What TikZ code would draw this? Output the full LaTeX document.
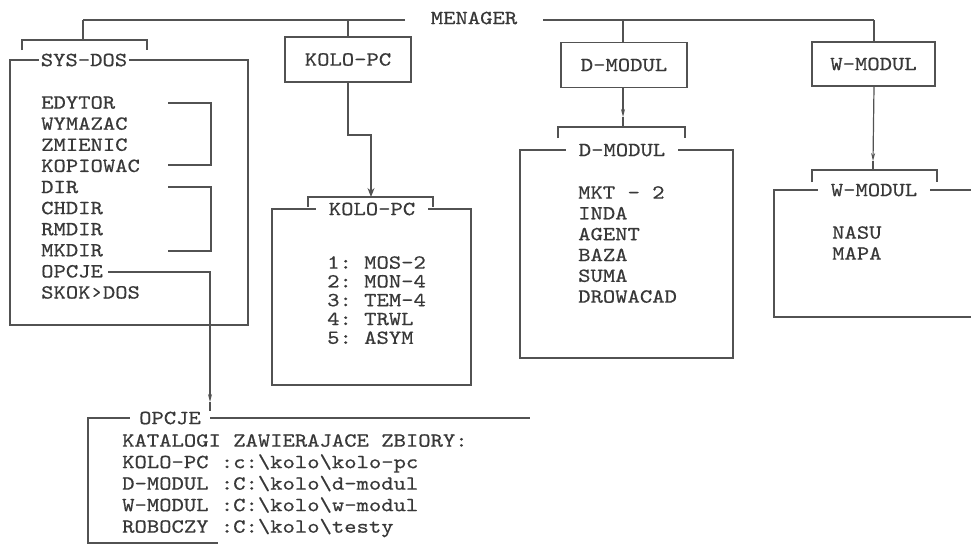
\documentclass[tikz,border=0pt]{standalone}
\usepackage{fontspec}
\setmonofont{lmmono10-regular.otf}[FakeStretch=1.175, FakeBold=0.6]
\usetikzlibrary{arrows.meta}
\tikzset{
  ln/.style={draw=black!68, line width=1.2pt},
  txt/.style={font=\ttfamily\fontsize{20}{21}\selectfont, text=black!78, inner sep=0pt},
  lbl/.style={txt, inner xsep=13pt},
  topbox/.style={txt, draw=black!68, line width=1.2pt, minimum width=126pt, minimum height=45pt},
  arr/.style={ln, -{Stealth[length=9pt,width=7pt]}},
  arrs/.style={ln, -{Stealth[length=8pt,width=4pt]}},
}
\begin{document}
\begin{tikzpicture}[x=1pt,y=-1pt]
\useasboundingbox (0,0) rectangle (971,546);
% ---------- top manager line
\node[txt] (men) at (474,18) {MENAGER};
\coordinate (mL) at (405,20);
\coordinate (mR) at (543,20);
\coordinate (c1) at (83,20);
\coordinate (c2) at (348,20);
\coordinate (c3) at (623,20);
\coordinate (c4) at (874,20);
\draw[ln] (mL) -- (c1);
\draw[ln] (mR) -- (c4);
% ---------- top boxes
\node[topbox] (kolo) at (348,59.5) {KOLO-PC};
\node[topbox] (dmod) at (624,65) {D-MODUL};
\node[topbox, minimum width=123pt, minimum height=44pt] (wmod) at (873.5,64) {W-MODUL};
\draw[ln] (c2) -- (kolo.north);
\draw[ln] (c3) -- (c3 |- dmod.north);
\draw[ln] (c4) -- (c4 |- wmod.north);
% ---------- SYS-DOS
\coordinate (sb1) at (22,50);
\coordinate (sb2) at (22,40);
\coordinate (sb3) at (147,40);
\coordinate (sb4) at (147,50);
\draw[ln] (sb1) -- (sb2) -- (sb3) -- (sb4);
\draw[ln] (c1) -- (c1 |- sb2);
\node[txt, inner xsep=2pt] (sys) at (84,60) {SYS-DOS};
\coordinate (s1) at (248,60);
\coordinate (s2) at (248,325);
\coordinate (s3) at (10,325);
\coordinate (s4) at (10,60);
\draw[ln] (sys.east) -- (s1) -- (s2) -- (s3) -- (s4) -- (sys.west);
\node[txt, align=left, anchor=north west, font=\ttfamily\fontsize{20}{21.1}\selectfont] (syslist) at (41,96)
  {EDYTOR\\WYMAZAC\\ZMIENIC\\KOPIOWAC\\DIR\\CHDIR\\RMDIR\\MKDIR\\OPCJE\\SKOK›DOS};
\coordinate (g1) at (168,103);
\coordinate (g2) at (211,103);
\coordinate (g3) at (211,165);
\coordinate (g4) at (168,165);
\draw[ln] (g1) -- (g2) -- (g3) -- (g4);
\coordinate (h1) at (168,187);
\coordinate (h2) at (211,187);
\coordinate (h3) at (211,251);
\coordinate (h4) at (168,251);
\draw[ln] (h1) -- (h2) -- (h3) -- (h4);
% ---------- KOLO-PC lower box
\coordinate (k1) at (348,135);
\coordinate (k2) at (371,135);
\coordinate (kb1) at (308,207);
\coordinate (kb2) at (308,197);
\coordinate (kb3) at (433,197);
\coordinate (kb4) at (433,207);
\draw[ln] (kb1) -- (kb2) -- (kb3) -- (kb4);
\draw[arr] (kolo.south) -- (k1) -- (k2) -- (k2 |- kb2);
\node[lbl] (kolol) at (372,209) {KOLO-PC};
\coordinate (kx1) at (471,209);
\coordinate (kx2) at (471,385);
\coordinate (kx3) at (272,385);
\coordinate (kx4) at (272,209);
\draw[ln] (kolol.east) -- (kx1) -- (kx2) -- (kx3) -- (kx4) -- (kolol.west);
\node[txt, align=left, anchor=north west, font=\ttfamily\fontsize{20}{18.8}\selectfont] (kololist) at (327,256)
  {1: MOS-2\\2: MON-4\\3: TEM-4\\4: TRWL\\5: ASYM};
% ---------- D-MODUL lower box
\coordinate (db1) at (558,138);
\coordinate (db2) at (558,127);
\coordinate (db3) at (685,127);
\coordinate (db4) at (685,138);
\coordinate (dm) at (623,117);
\draw[ln] (db1) -- (db2) -- (db3) -- (db4);
\draw[arrs] (c3 |- dmod.south) -- (dm);
\draw[ln] (dm) -- (dm |- db2);
\node[lbl] (dmodl) at (622,150) {D-MODUL};
\coordinate (dx1) at (733,150);
\coordinate (dx2) at (733,358);
\coordinate (dx3) at (520,358);
\coordinate (dx4) at (520,150);
\draw[ln] (dmodl.east) -- (dx1) -- (dx2) -- (dx3) -- (dx4) -- (dmodl.west);
\node[txt, align=left, anchor=north west, font=\ttfamily\fontsize{20}{20.8}\selectfont] (dlist) at (578,186)
  {MKT - 2\\INDA\\AGENT\\BAZA\\SUMA\\DROWACAD};
% ---------- W-MODUL lower box
\coordinate (wb1) at (812,182);
\coordinate (wb2) at (812,170);
\coordinate (wb3) at (937,170);
\coordinate (wb4) at (937,182);
\coordinate (wm) at (873,161);
\draw[ln] (wb1) -- (wb2) -- (wb3) -- (wb4);
\draw[arrs] (c4 |- wmod.south) -- (wm);
\draw[ln] (wm) -- (wm |- wb2);
\node[lbl] (wmodl) at (874,190) {W-MODUL};
\coordinate (wx1) at (971,190);
\coordinate (wx2) at (971,317);
\coordinate (wx3) at (774,317);
\coordinate (wx4) at (774,190);
\draw[ln] (wmodl.east) -- (wx1);
\draw[ln] (wx2) -- (wx3) -- (wx4) -- (wmodl.west);
\node[txt, align=left, anchor=north west, font=\ttfamily\fontsize{20}{21}\selectfont] (wlist) at (832,226)
  {NASU\\MAPA};
% ---------- OPCJE box
\coordinate (o1) at (108,272);
\coordinate (o2) at (210,272);
\coordinate (o3) at (210,402);
\draw[arrs] (o1) -- (o2) -- (o3);
\node[lbl, inner xsep=9pt] (opl) at (170,418) {OPCJE};
\draw[ln] (o3) -- (o3 |- opl.north);
\coordinate (ox1) at (530,418);
\coordinate (ox2) at (88,418);
\coordinate (ox3) at (88,543);
\coordinate (ox4) at (218,543);
\draw[ln] (opl.east) -- (ox1);
\draw[ln] (opl.west) -- (ox2) -- (ox3) -- (ox4);
\node[txt, align=left, anchor=north west, font=\ttfamily\fontsize{20}{21.5}\selectfont] (oplist) at (122,434)
  {KATALOGI ZAWIERAJACE ZBIORY:\\KOLO-PC :c:\textbackslash kolo\textbackslash kolo-pc\\D-MODUL :C:\textbackslash kolo\textbackslash d-modul\\W-MODUL :C:\textbackslash kolo\textbackslash w-modul\\ROBOCZY :C:\textbackslash kolo\textbackslash testy};
\end{tikzpicture}
\end{document}
